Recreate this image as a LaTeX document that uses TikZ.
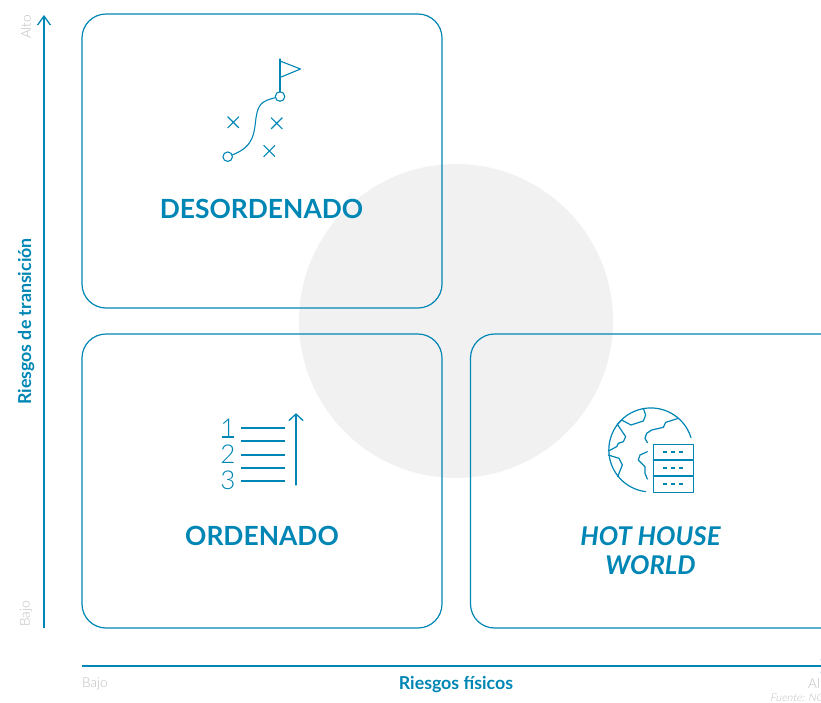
\documentclass[tikz,border=0pt]{standalone}
\usepackage{fontspec}
\setmainfont{Lato}
\newfontfamily\latolight{Lato Light}
\newfontfamily\latoslant[FakeSlant=0.2]{Lato Light}
\usetikzlibrary{arrows.meta}
\definecolor{azul}{HTML}{0086B4}
\definecolor{gris}{HTML}{BDBDBD}
\definecolor{circulo}{HTML}{F1F1F1}
\tikzset{
  panel/.style={draw=azul,line width=1.2pt,rounded corners=24pt},
  icon/.style={draw=azul,line width=1.1pt,line cap=round,line join=round},
  thinicon/.style={draw=azul,line width=1.2pt,line join=round,line cap=round},
  axisline/.style={draw=azul,line width=1.8pt,-{Straight Barb[length=9pt,width=13pt,line width=1.3pt]}},
  titulo/.style={text=azul,font=\bfseries\fontsize{26.4}{29}\selectfont,align=center,inner sep=0pt},
  axislabel/.style={text=azul,font=\bfseries\fontsize{17.8}{20}\selectfont,inner sep=0pt},
  scalelabel/.style={text=gris,font=\latolight\fontsize{13.5}{15}\selectfont,inner sep=0pt},
  numeral/.style={text=azul,font=\latolight\fontsize{26}{28}\selectfont,inner sep=0pt},
  pin/.style={draw=azul,line width=1.1pt,circle,minimum size=9.5pt,inner sep=0pt},
}
\begin{document}
\begin{tikzpicture}[x=1pt,y=-1pt]
\useasboundingbox (0,0) rectangle (821,702);
\clip (0,0) rectangle (821,702);
\fill[circulo] (456,321) circle (157);
% panels
\draw[panel] (82,14) rectangle (442,308);
\draw[panel] (82,334) rectangle (442,628);
\draw[panel] (470.5,334) rectangle (860,628);
% axes
\coordinate (ybase) at (44,628);
\coordinate (ytip) at (44,15);
\coordinate (xbase) at (82,666);
\coordinate (xtip) at (831,666);
\draw[axisline] (ybase) -- (ytip);
\draw[axisline] (xbase) -- (xtip);
% titles
\node[titulo] (des) at (261.5,208.5) {DESORDENADO};
\node[titulo] (ord) at (262,536) {ORDENADO};
\node[titulo,font=\bfseries\itshape\fontsize{25.8}{29}\selectfont] (hot) at (650.5,550.5) {HOT HOUSE\\WORLD};
% axis labels
\node[axislabel,rotate=90] (yl) at (26,321.5) {Riesgos de transición};
\node[axislabel] (xl) at (456,684) {Riesgos físicos};
\node[scalelabel,rotate=90] (yalto) at (26,27) {Alto};
\node[scalelabel,rotate=90] (ybajo) at (26,614) {Bajo};
\node[scalelabel,anchor=west] (xbajo) at (82,684) {Bajo};
\node[scalelabel,anchor=west] (xalto) at (808,684) {Alto};
\node[text=gris,font=\latoslant\fontsize{10.5}{12}\selectfont,anchor=west,inner sep=0pt] (src) at (770,698) {Fuente: NGFS};
% icon 1: plan
\draw[icon] (280,92) -- (280,59);
\draw[icon] (280,61) -- (300.5,69) -- (280,77.5);
\node[pin] (c1) at (280,96.5) {};
\node[pin] (c2) at (227.7,156.7) {};
\draw[icon] (c1) .. controls (262,101) and (258,104) .. (256,118) .. controls (254,132) and (255,146) .. (c2);
\foreach \cx/\cy in {233.3/122.3,276.7/123.3,269.3/151}{
  \draw[icon] (\cx-5.5,\cy-5.5) -- (\cx+5.5,\cy+5.5) (\cx-5.5,\cy+5.5) -- (\cx+5.5,\cy-5.5);
}
% icon 2: ordered list
\node[numeral] (n1) at (228,428) {1};
\node[numeral] (n2) at (228,454.5) {2};
\node[numeral] (n3) at (228,480.5) {3};
\foreach \ly in {428,441,455,468,481}{
  \draw[icon,line cap=butt,line width=1.4pt] (241,\ly) -- (285,\ly);
}
\draw[azul,line width=1.6pt] (222,437) -- (234,437);
\draw[icon,line width=1.3pt] (296,485) -- (296,414);
\draw[icon,line width=1.3pt] (289,420.5) -- (296,414) -- (303,420.5);
% icon 3: globe with server
\begin{scope}[shift={(595,395)},x=0.3333pt,y=-0.3333pt]
  \draw[thinicon] (288,128) arc[start angle=17,end angle=263,radius=42pt];
  \draw[thinicon] (145,40) -- (152,60) -- (145,78) -- (108,90) -- (80,75) -- (67,88);
  \draw[thinicon] (67,88) -- (92,125) -- (85,140) -- (70,145) -- (65,155) -- (40,168);
  \draw[thinicon] (40,180) -- (72,190) -- (82,210) -- (68,245);
  \draw[thinicon] (250,70) -- (212,82) -- (205,97) -- (170,105) -- (155,115) -- (150,130) -- (157,143);
  \draw[thinicon] (157,170) -- (135,180) -- (130,195) -- (150,215) -- (150,235) -- (157,252);
  \draw[thinicon,line width=1.6pt] (175,148) rectangle (295,292);
  \draw[thinicon,line width=1.6pt] (175,195) -- (295,195) (175,243) -- (295,243);
  \foreach \dy in {170,218,266}{
    \draw[azul,line width=2pt] (205,\dy) -- (215,\dy) (228,\dy) -- (240,\dy) (252,\dy) -- (265,\dy);
  }
\end{scope}
\end{tikzpicture}
\end{document}
